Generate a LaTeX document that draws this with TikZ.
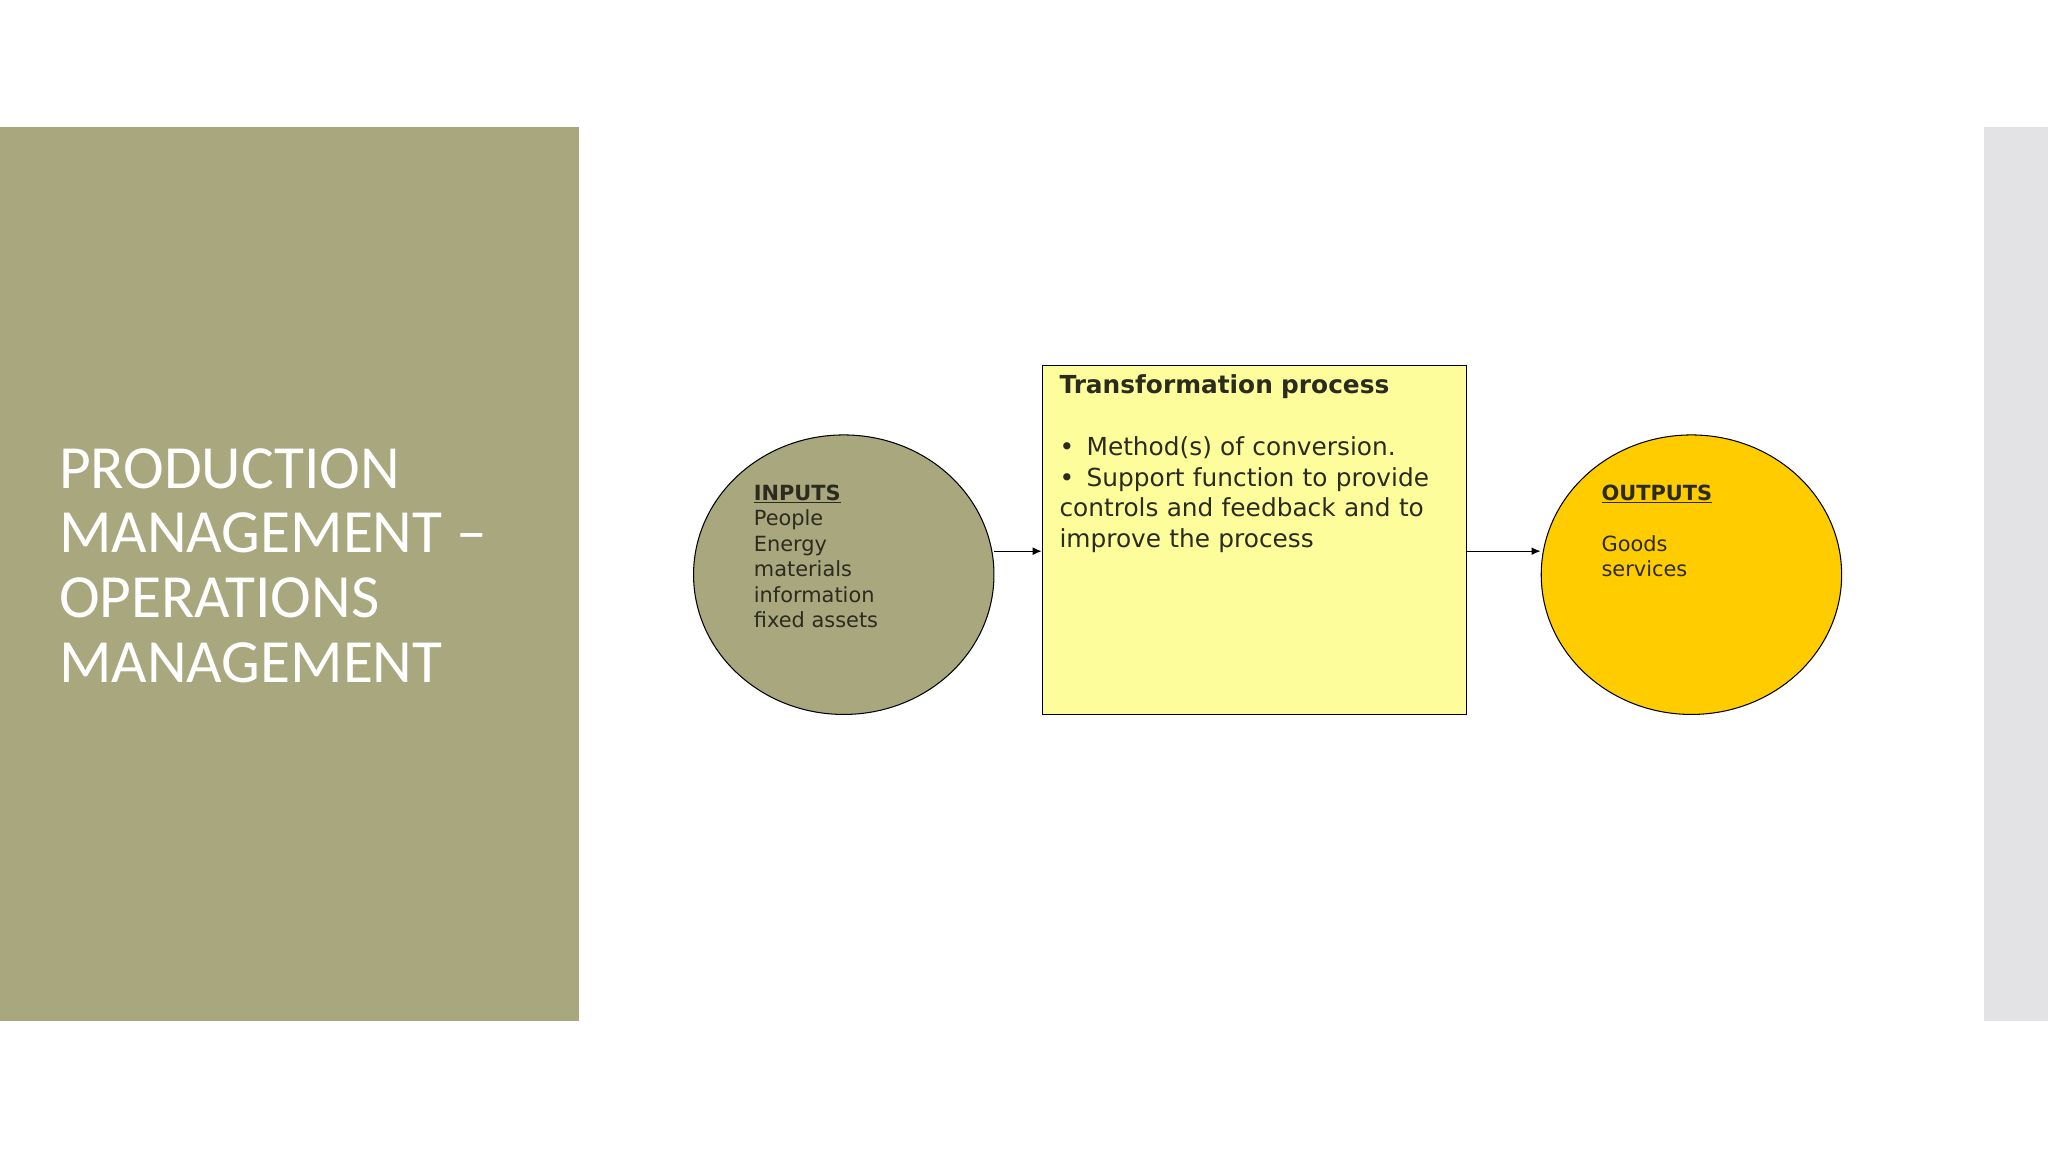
\documentclass[tikz,border=0pt]{standalone}
\usepackage{fontspec}
\setmainfont{DejaVu Sans}
\newfontfamily\titlefont{Carlito}
\usetikzlibrary{arrows.meta}
\definecolor{olive}{HTML}{A9A77D}
\definecolor{strip}{HTML}{E3E3E5}
\definecolor{boxy}{HTML}{FDFD9C}
\definecolor{gold}{HTML}{FFCC00}
\definecolor{txt}{HTML}{2B2B1F}
\tikzset{
 blob/.style={ellipse, draw=black, line width=0.8pt, minimum width=230pt, minimum height=214pt},
 conn/.style={-{Latex[length=7pt,width=6pt]}, line width=1pt},
 small/.style={font=\fontsize{16}{19.5}\selectfont, text=txt, align=left, anchor=north west, inner sep=0pt}
}
\usetikzlibrary{shapes.geometric}
\begin{document}
\begin{tikzpicture}[x=1pt,y=-1pt]
\useasboundingbox (0,0) rectangle (1568,882);
\fill[white] (0,0) rectangle (1568,882);
\fill[olive] (0,97) rectangle (443,782);
\fill[strip] (1519,97) rectangle (1568,782);
\node[anchor=north west, text=white, align=left, inner sep=0pt,
 font=\titlefont\fontsize{47}{49.5}\selectfont] (title) at (45,343)
 {PRODUCTION\\MANAGEMENT –\\OPERATIONS\\MANAGEMENT};
\node[blob, fill=olive] (in) at (646,440) {};
\node[blob, fill=gold] (out) at (1295,440) {};
\node[draw=black, line width=0.8pt, fill=boxy, minimum width=325pt, minimum height=267pt, inner sep=0pt] (box) at (960.5,413.5) {};
\node[small] (intext) at (577,371) {\textbf{\underline{INPUTS}}\\People\\Energy\\materials\\information\\fixed assets};
\node[small] (outtext) at (1226,371) {\textbf{\underline{OUTPUTS}}\\[19.5pt]Goods\\services};
\node[anchor=north west, inner sep=0pt, text=txt, align=left, text width=300pt,
 font=\fontsize{19}{23.5}\selectfont] (boxtext) at (811,287)
 {\textbf{Transformation process}\\[23.5pt]
 \textbullet\enspace Method(s) of conversion.\\
 \textbullet\enspace Support function to provide\\controls and feedback and to\\improve the process};
\coordinate (a1) at (761,422);
\coordinate (a2) at (1123,422);
\draw[conn] (a1) -- (a1 -| box.west);
\draw[conn] (a2) -- (a2 -| out.west);
\end{tikzpicture}
\end{document}
